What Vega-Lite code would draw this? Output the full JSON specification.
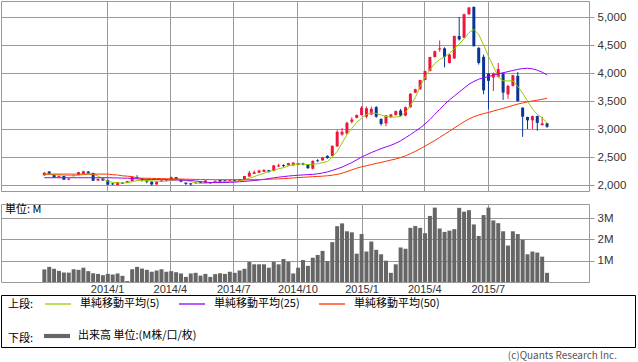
{
"$schema": "https://vega.github.io/schema/vega-lite/v6.json",
"padding": {"left": 0, "top": 0, "right": 0, "bottom": 0},
"background": "white",
"config": {
  "font": "Noto Sans CJK JP",
  "view": {"stroke": "#999", "strokeWidth": 1},
  "axis": {"labelFont": "Noto Sans CJK JP", "gridColor": "#999", "gridOpacity": 1, "gridWidth": 1, "domain": false, "labelColor": "#333"},
  "legend": {"labelFont": "Noto Sans CJK JP", "titleFont": "Noto Sans CJK JP"}
},
"datasets": {"w": [
{"d":"2013-10-03","o":2173,"h":2230,"l":2165,"c":2220,"v":0.59,"ma5":2190,"ma25":2130,"ma50":2195},
{"d":"2013-10-10","o":2240,"h":2250,"l":2195,"c":2205,"v":0.71,"ma5":2190,"ma25":2130,"ma50":2195},
{"d":"2013-10-17","o":2178,"h":2185,"l":2130,"c":2137,"v":0.62,"ma5":2185,"ma25":2130,"ma50":2195},
{"d":"2013-10-24","o":2145,"h":2170,"l":2125,"c":2162,"v":0.52,"ma5":2180,"ma25":2130,"ma50":2195},
{"d":"2013-10-31","o":2160,"h":2165,"l":2090,"c":2095,"v":0.44,"ma5":2175,"ma25":2130,"ma50":2195},
{"d":"2013-11-07","o":2095,"h":2130,"l":2085,"c":2112,"v":0.44,"ma5":2170,"ma25":2130,"ma50":2195},
{"d":"2013-11-14","o":2160,"h":2185,"l":2150,"c":2180,"v":0.60,"ma5":2165,"ma25":2130,"ma50":2195},
{"d":"2013-11-21","o":2180,"h":2235,"l":2175,"c":2230,"v":0.57,"ma5":2175,"ma25":2130,"ma50":2195},
{"d":"2013-11-28","o":2200,"h":2255,"l":2195,"c":2245,"v":0.67,"ma5":2185,"ma25":2130,"ma50":2195},
{"d":"2013-12-05","o":2240,"h":2250,"l":2200,"c":2210,"v":0.51,"ma5":2195,"ma25":2130,"ma50":2195},
{"d":"2013-12-12","o":2215,"h":2220,"l":2070,"c":2077,"v":0.41,"ma5":2190,"ma25":2130,"ma50":2195},
{"d":"2013-12-19","o":2080,"h":2115,"l":2070,"c":2110,"v":0.38,"ma5":2160,"ma25":2130,"ma50":2195},
{"d":"2013-12-26","o":2120,"h":2130,"l":2075,"c":2080,"v":0.32,"ma5":2110,"ma25":2130,"ma50":2195},
{"d":"2014-01-02","o":2090,"h":2095,"l":2000,"c":2006,"v":0.38,"ma5":2070,"ma25":2130,"ma50":2195},
{"d":"2014-01-09","o":2028,"h":2035,"l":2000,"c":2010,"v":0.35,"ma5":2045,"ma25":2128,"ma50":2185},
{"d":"2014-01-16","o":2000,"h":2055,"l":1995,"c":2050,"v":0.40,"ma5":2040,"ma25":2126,"ma50":2178},
{"d":"2014-01-23","o":2042,"h":2050,"l":2020,"c":2025,"v":0.29,"ma5":2035,"ma25":2124,"ma50":2165},
{"d":"2014-01-30","o":2040,"h":2075,"l":2035,"c":2070,"v":0.05,"ma5":2040,"ma25":2122,"ma50":2158},
{"d":"2014-02-06","o":2066,"h":2150,"l":2060,"c":2143,"v":0.60,"ma5":2060,"ma25":2118,"ma50":2150},
{"d":"2014-02-13","o":2140,"h":2175,"l":2110,"c":2120,"v":0.71,"ma5":2080,"ma25":2110,"ma50":2130},
{"d":"2014-02-20","o":2115,"h":2120,"l":2060,"c":2090,"v":0.63,"ma5":2085,"ma25":2105,"ma50":2122},
{"d":"2014-02-27","o":2090,"h":2095,"l":2030,"c":2060,"v":0.57,"ma5":2080,"ma25":2100,"ma50":2120},
{"d":"2014-03-06","o":2060,"h":2065,"l":1990,"c":2010,"v":0.48,"ma5":2075,"ma25":2100,"ma50":2118},
{"d":"2014-03-13","o":2010,"h":2065,"l":2005,"c":2060,"v":0.54,"ma5":2070,"ma25":2098,"ma50":2116},
{"d":"2014-03-20","o":2060,"h":2090,"l":2055,"c":2080,"v":0.60,"ma5":2065,"ma25":2096,"ma50":2114},
{"d":"2014-03-27","o":2080,"h":2105,"l":2070,"c":2100,"v":0.48,"ma5":2070,"ma25":2095,"ma50":2112},
{"d":"2014-04-03","o":2100,"h":2150,"l":2095,"c":2140,"v":0.51,"ma5":2080,"ma25":2093,"ma50":2110},
{"d":"2014-04-10","o":2140,"h":2145,"l":2100,"c":2110,"v":0.46,"ma5":2090,"ma25":2090,"ma50":2108},
{"d":"2014-04-17","o":2100,"h":2105,"l":2050,"c":2060,"v":0.40,"ma5":2095,"ma25":2088,"ma50":2106},
{"d":"2014-04-24","o":2042,"h":2045,"l":2000,"c":2020,"v":0.24,"ma5":2085,"ma25":2085,"ma50":2104},
{"d":"2014-05-01","o":2030,"h":2035,"l":1990,"c":2010,"v":0.40,"ma5":2060,"ma25":2080,"ma50":2102},
{"d":"2014-05-08","o":2030,"h":2055,"l":2025,"c":2050,"v":0.43,"ma5":2040,"ma25":2072,"ma50":2100},
{"d":"2014-05-15","o":2060,"h":2065,"l":2030,"c":2040,"v":0.30,"ma5":2030,"ma25":2060,"ma50":2098},
{"d":"2014-05-22","o":2040,"h":2085,"l":2035,"c":2080,"v":0.38,"ma5":2030,"ma25":2050,"ma50":2097},
{"d":"2014-05-29","o":2050,"h":2055,"l":2020,"c":2030,"v":0.24,"ma5":2040,"ma25":2045,"ma50":2096},
{"d":"2014-06-05","o":2045,"h":2080,"l":2040,"c":2075,"v":0.37,"ma5":2050,"ma25":2043,"ma50":2095},
{"d":"2014-06-12","o":2090,"h":2095,"l":2045,"c":2050,"v":0.41,"ma5":2055,"ma25":2043,"ma50":2095},
{"d":"2014-06-19","o":2085,"h":2090,"l":2060,"c":2070,"v":0.38,"ma5":2055,"ma25":2045,"ma50":2095},
{"d":"2014-06-26","o":2075,"h":2095,"l":2070,"c":2092,"v":0.48,"ma5":2060,"ma25":2048,"ma50":2095},
{"d":"2014-07-03","o":2092,"h":2095,"l":2070,"c":2075,"v":0.43,"ma5":2065,"ma25":2052,"ma50":2095},
{"d":"2014-07-10","o":2075,"h":2105,"l":2070,"c":2100,"v":0.54,"ma5":2075,"ma25":2058,"ma50":2095},
{"d":"2014-07-17","o":2090,"h":2165,"l":2085,"c":2160,"v":0.62,"ma5":2095,"ma25":2065,"ma50":2095},
{"d":"2014-07-24","o":2150,"h":2250,"l":2145,"c":2220,"v":0.94,"ma5":2120,"ma25":2072,"ma50":2095},
{"d":"2014-07-31","o":2200,"h":2260,"l":2195,"c":2230,"v":0.83,"ma5":2150,"ma25":2080,"ma50":2096},
{"d":"2014-08-07","o":2220,"h":2270,"l":2215,"c":2260,"v":0.83,"ma5":2180,"ma25":2090,"ma50":2098},
{"d":"2014-08-14","o":2235,"h":2280,"l":2230,"c":2270,"v":0.83,"ma5":2210,"ma25":2100,"ma50":2100},
{"d":"2014-08-21","o":2265,"h":2270,"l":2225,"c":2230,"v":0.67,"ma5":2240,"ma25":2115,"ma50":2103},
{"d":"2014-08-28","o":2250,"h":2355,"l":2245,"c":2350,"v":0.95,"ma5":2265,"ma25":2128,"ma50":2106},
{"d":"2014-09-04","o":2330,"h":2380,"l":2320,"c":2350,"v":0.83,"ma5":2290,"ma25":2140,"ma50":2110},
{"d":"2014-09-11","o":2355,"h":2370,"l":2320,"c":2338,"v":1.08,"ma5":2310,"ma25":2150,"ma50":2115},
{"d":"2014-09-18","o":2350,"h":2395,"l":2345,"c":2390,"v":0.95,"ma5":2340,"ma25":2160,"ma50":2120},
{"d":"2014-09-25","o":2350,"h":2405,"l":2345,"c":2400,"v":0.40,"ma5":2365,"ma25":2168,"ma50":2126},
{"d":"2014-10-02","o":2360,"h":2395,"l":2355,"c":2390,"v":0.67,"ma5":2375,"ma25":2174,"ma50":2132},
{"d":"2014-10-09","o":2385,"h":2400,"l":2350,"c":2365,"v":1.03,"ma5":2375,"ma25":2180,"ma50":2138},
{"d":"2014-10-16","o":2365,"h":2375,"l":2290,"c":2300,"v":0.76,"ma5":2365,"ma25":2185,"ma50":2143},
{"d":"2014-10-23","o":2290,"h":2440,"l":2280,"c":2430,"v":1.14,"ma5":2370,"ma25":2190,"ma50":2148},
{"d":"2014-10-30","o":2440,"h":2460,"l":2410,"c":2425,"v":1.27,"ma5":2380,"ma25":2200,"ma50":2153},
{"d":"2014-11-06","o":2440,"h":2500,"l":2435,"c":2490,"v":1.46,"ma5":2400,"ma25":2215,"ma50":2158},
{"d":"2014-11-13","o":2520,"h":2530,"l":2470,"c":2480,"v":0.98,"ma5":2420,"ma25":2235,"ma50":2165},
{"d":"2014-11-20","o":2520,"h":2705,"l":2515,"c":2700,"v":1.87,"ma5":2500,"ma25":2260,"ma50":2175},
{"d":"2014-11-27","o":2690,"h":2980,"l":2680,"c":2950,"v":2.62,"ma5":2600,"ma25":2290,"ma50":2190},
{"d":"2014-12-04","o":2900,"h":3020,"l":2880,"c":2950,"v":2.75,"ma5":2750,"ma25":2320,"ma50":2210},
{"d":"2014-12-11","o":2920,"h":3130,"l":2900,"c":3110,"v":2.38,"ma5":2900,"ma25":2360,"ma50":2240},
{"d":"2014-12-18","o":3130,"h":3210,"l":3100,"c":3170,"v":2.33,"ma5":3010,"ma25":2400,"ma50":2270},
{"d":"2014-12-25","o":3200,"h":3260,"l":3190,"c":3250,"v":1.33,"ma5":3120,"ma25":2450,"ma50":2300},
{"d":"2015-01-01","o":3250,"h":3410,"l":3240,"c":3380,"v":2.25,"ma5":3190,"ma25":2500,"ma50":2325},
{"d":"2015-01-08","o":3220,"h":3400,"l":3190,"c":3370,"v":1.43,"ma5":3260,"ma25":2540,"ma50":2345},
{"d":"2015-01-15","o":3260,"h":3400,"l":3250,"c":3360,"v":1.90,"ma5":3285,"ma25":2580,"ma50":2365},
{"d":"2015-01-22","o":3390,"h":3410,"l":3200,"c":3220,"v":1.51,"ma5":3280,"ma25":2615,"ma50":2385},
{"d":"2015-01-29","o":3180,"h":3190,"l":3060,"c":3090,"v":1.30,"ma5":3250,"ma25":2650,"ma50":2405},
{"d":"2015-02-05","o":3100,"h":3250,"l":3050,"c":3240,"v":1.00,"ma5":3225,"ma25":2680,"ma50":2425},
{"d":"2015-02-12","o":3210,"h":3270,"l":3200,"c":3260,"v":0.43,"ma5":3215,"ma25":2710,"ma50":2445},
{"d":"2015-02-19","o":3250,"h":3330,"l":3240,"c":3320,"v":0.83,"ma5":3215,"ma25":2745,"ma50":2465},
{"d":"2015-02-26","o":3330,"h":3360,"l":3220,"c":3240,"v":1.62,"ma5":3225,"ma25":2790,"ma50":2490},
{"d":"2015-03-05","o":3240,"h":3400,"l":3230,"c":3390,"v":1.56,"ma5":3300,"ma25":2845,"ma50":2520},
{"d":"2015-03-12","o":3390,"h":3640,"l":3380,"c":3630,"v":2.54,"ma5":3420,"ma25":2900,"ma50":2560},
{"d":"2015-03-19","o":3650,"h":3720,"l":3640,"c":3710,"v":2.63,"ma5":3560,"ma25":2960,"ma50":2600},
{"d":"2015-03-26","o":3710,"h":3880,"l":3700,"c":3875,"v":2.54,"ma5":3760,"ma25":3020,"ma50":2645},
{"d":"2015-04-02","o":3875,"h":4040,"l":3870,"c":4035,"v":2.29,"ma5":3930,"ma25":3090,"ma50":2695},
{"d":"2015-04-09","o":4035,"h":4290,"l":4030,"c":4285,"v":3.10,"ma5":4060,"ma25":3170,"ma50":2745},
{"d":"2015-04-16","o":4285,"h":4400,"l":4280,"c":4390,"v":3.49,"ma5":4170,"ma25":3260,"ma50":2795},
{"d":"2015-04-23","o":4420,"h":4580,"l":4380,"c":4440,"v":2.51,"ma5":4240,"ma25":3350,"ma50":2850},
{"d":"2015-04-30","o":4440,"h":4460,"l":4100,"c":4285,"v":2.35,"ma5":4290,"ma25":3440,"ma50":2905},
{"d":"2015-05-07","o":4180,"h":4340,"l":4170,"c":4330,"v":2.41,"ma5":4350,"ma25":3520,"ma50":2960},
{"d":"2015-05-14","o":4260,"h":4670,"l":4250,"c":4660,"v":2.48,"ma5":4430,"ma25":3590,"ma50":3020},
{"d":"2015-05-21","o":4660,"h":5000,"l":4580,"c":4600,"v":3.48,"ma5":4520,"ma25":3660,"ma50":3075},
{"d":"2015-05-28","o":4630,"h":5060,"l":4620,"c":5050,"v":3.30,"ma5":4610,"ma25":3730,"ma50":3130},
{"d":"2015-06-04","o":5050,"h":5180,"l":5040,"c":5170,"v":3.37,"ma5":4720,"ma25":3800,"ma50":3180},
{"d":"2015-06-11","o":5180,"h":5190,"l":4470,"c":4480,"v":2.70,"ma5":4780,"ma25":3850,"ma50":3220},
{"d":"2015-06-18","o":4450,"h":4460,"l":4150,"c":4180,"v":2.16,"ma5":4690,"ma25":3890,"ma50":3250},
{"d":"2015-06-25","o":4290,"h":4330,"l":3620,"c":3690,"v":3.14,"ma5":4500,"ma25":3915,"ma50":3275},
{"d":"2015-07-02","o":3990,"h":4000,"l":3350,"c":3860,"v":3.49,"ma5":4300,"ma25":3935,"ma50":3295},
{"d":"2015-07-09","o":3920,"h":4010,"l":3680,"c":3990,"v":2.89,"ma5":4120,"ma25":3960,"ma50":3320},
{"d":"2015-07-16","o":3930,"h":4180,"l":3920,"c":4070,"v":2.76,"ma5":3930,"ma25":3985,"ma50":3345},
{"d":"2015-07-23","o":3990,"h":4010,"l":3520,"c":3650,"v":2.38,"ma5":3860,"ma25":4005,"ma50":3370},
{"d":"2015-07-30","o":3620,"h":3790,"l":3540,"c":3770,"v":1.71,"ma5":3860,"ma25":4025,"ma50":3395},
{"d":"2015-08-06","o":3770,"h":3970,"l":3760,"c":3960,"v":2.38,"ma5":3860,"ma25":4045,"ma50":3420},
{"d":"2015-08-13","o":3950,"h":4020,"l":3490,"c":3500,"v":2.25,"ma5":3760,"ma25":4065,"ma50":3445},
{"d":"2015-08-20","o":3380,"h":3390,"l":2860,"c":3220,"v":1.98,"ma5":3640,"ma25":4080,"ma50":3465},
{"d":"2015-08-27","o":3215,"h":3220,"l":3000,"c":3155,"v":1.30,"ma5":3500,"ma25":4085,"ma50":3485},
{"d":"2015-09-03","o":3155,"h":3240,"l":3000,"c":3230,"v":1.43,"ma5":3360,"ma25":4075,"ma50":3500},
{"d":"2015-09-10","o":3230,"h":3240,"l":2970,"c":3110,"v":1.38,"ma5":3260,"ma25":4050,"ma50":3515},
{"d":"2015-09-17","o":3070,"h":3220,"l":3060,"c":3100,"v":1.19,"ma5":3200,"ma25":4015,"ma50":3530},
{"d":"2015-09-24","o":3100,"h":3110,"l":3020,"c":3040,"v":0.43,"ma5":3110,"ma25":3965,"ma50":3550}
]},
"vconcat": [
{
  "width": 588, "height": 190,
  "data": {"name": "w"},
  "encoding": {
    "x": {"field": "d", "type": "temporal",
      "scale": {"type": "utc", "domain": [{"year": 2013, "month": 8, "date": 9, "utc": true}, {"year": 2015, "month": 11, "date": 16, "utc": true}]},
      "axis": {"title": null, "labels": false, "ticks": false, "domain": false, "grid": true,
        "values": [{"year":2014,"month":1,"date":1,"utc":true},{"year":2014,"month":4,"date":1,"utc":true},{"year":2014,"month":7,"date":1,"utc":true},{"year":2014,"month":10,"date":1,"utc":true},{"year":2015,"month":1,"date":1,"utc":true},{"year":2015,"month":4,"date":1,"utc":true},{"year":2015,"month":7,"date":1,"utc":true}]}}
  },
  "layer": [
    {"mark": {"type": "rule", "strokeWidth": 1},
     "encoding": {
       "y": {"field": "l", "type": "quantitative", "scale": {"domain": [1893, 5286], "nice": false, "zero": false},
         "axis": {"orient": "right", "title": null, "values": [2000,2500,3000,3500,4000,4500,5000], "format": ",d", "grid": true, "tickSize": 5, "tickColor": "#999", "labelPadding": 3, "labelFontSize": 11.5, "labelFont": "Liberation Sans", "labelOverlap": false, "labelBound": false}},
       "y2": {"field": "h"},
       "color": {"condition": {"test": "datum.c >= datum.o", "value": "#f01440"}, "value": "#0a3592"}
     }},
    {"mark": {"type": "bar", "width": 3},
     "encoding": {
       "y": {"field": "o", "type": "quantitative", "scale": {"domain": [1893, 5286], "nice": false, "zero": false},
         "axis": {"orient": "right", "title": null, "values": [2000,2500,3000,3500,4000,4500,5000], "format": ",d", "grid": true, "tickSize": 5, "tickColor": "#999", "labelPadding": 3, "labelFontSize": 11.5, "labelFont": "Liberation Sans", "labelOverlap": false, "labelBound": false}},
       "y2": {"field": "c"},
       "color": {"condition": {"test": "datum.c >= datum.o", "value": "#f01440"}, "value": "#0a3592"}
     }},
    {"transform": [{"fold": ["ma5", "ma25", "ma50"], "as": ["k", "val"]}],
     "mark": {"type": "line", "strokeWidth": 1},
     "encoding": {
       "y": {"field": "val", "type": "quantitative", "scale": {"domain": [1893, 5286], "nice": false, "zero": false},
         "axis": {"orient": "right", "title": null, "values": [2000,2500,3000,3500,4000,4500,5000], "format": ",d", "grid": true, "tickSize": 5, "tickColor": "#999", "labelPadding": 3, "labelFontSize": 11.5, "labelFont": "Liberation Sans", "labelOverlap": false, "labelBound": false}},
       "stroke": {"field": "k", "type": "nominal",
         "scale": {"domain": ["ma5", "ma25", "ma50"], "range": ["#99cc00", "#9900ff", "#ff3300"]},
         "legend": {"orient": "none", "legendX": 7, "legendY": 289, "direction": "horizontal",
           "title": "上段:", "titleOrient": "left", "titleBaseline": "line-top", "titleLineHeight": 9, "titleFontSize": 11, "titleFontWeight": "normal", "titleColor": "#000", "titlePadding": 10,
           "symbolType": "stroke", "symbolSize": 676, "symbolStrokeWidth": 1.3,
           "labelFontSize": 11, "labelColor": "#000", "labelOffset": 8, "columnPadding": 16,
           "labelExpr": "datum.value == 'ma5' ? '単純移動平均(5)' : datum.value == 'ma25' ? '単純移動平均(25)' : '単純移動平均(50)'"}}
     }}
  ]
},
{
  "width": 588, "height": 78,
  "data": {"name": "w"},
  "title": {"text": "単位: M", "anchor": "start", "orient": "top", "fontSize": 11, "fontWeight": "normal", "color": "#000", "offset": 0, "dx": 4, "dy": 11},
  "mark": {"type": "bar", "width": 4},
  "encoding": {
    "x": {"field": "d", "type": "temporal",
      "scale": {"type": "utc", "domain": [{"year": 2013, "month": 8, "date": 9, "utc": true}, {"year": 2015, "month": 11, "date": 16, "utc": true}]},
      "axis": {"title": null, "ticks": false, "domain": false, "grid": true, "format": "%Y/%-m", "labelFontSize": 11, "labelPadding": 1, "labelFont": "Liberation Sans", "labelColor": "#333",
        "values": [{"year":2014,"month":1,"date":1,"utc":true},{"year":2014,"month":4,"date":1,"utc":true},{"year":2014,"month":7,"date":1,"utc":true},{"year":2014,"month":10,"date":1,"utc":true},{"year":2015,"month":1,"date":1,"utc":true},{"year":2015,"month":4,"date":1,"utc":true},{"year":2015,"month":7,"date":1,"utc":true}]}},
    "y": {"field": "v", "type": "quantitative", "scale": {"domain": [0, 3.66], "nice": false},
      "axis": {"orient": "right", "title": null, "values": [1, 2, 3], "labelExpr": "datum.value + 'M'", "grid": true, "tickSize": 5, "tickColor": "#999", "labelPadding": 3, "labelFontSize": 11.5, "labelFont": "Liberation Sans"}},
    "fill": {"datum": "出来高 単位:(M株/口/枚)", "type": "nominal", "scale": {"range": ["#666666"]},
      "legend": {"orient": "none", "legendX": 7, "legendY": 322, "title": "下段:", "titleOrient": "left", "titleBaseline": "line-top", "titleLineHeight": 14, "titleFontSize": 11, "titleFontWeight": "normal", "titleColor": "#000", "titlePadding": 10,
        "symbolType": "M-1,-0.16L1,-0.16L1,0.16L-1,0.16Z", "symbolSize": 676, "symbolStrokeWidth": 0, "labelFontSize": 11, "labelColor": "#000", "labelOffset": 8}}
  }
},
{
  "width": 634, "height": 52,
  "view": {"stroke": "#000", "strokeWidth": 1},
  "data": {"values": []},
  "mark": "point",
  "title": {"text": "(c)Quants Research Inc.", "orient": "bottom", "anchor": "end", "fontSize": 10, "fontWeight": "normal", "color": "#555", "offset": 4, "dx": -18}
}
],
"spacing": 13,
"bounds": "flush"
}
